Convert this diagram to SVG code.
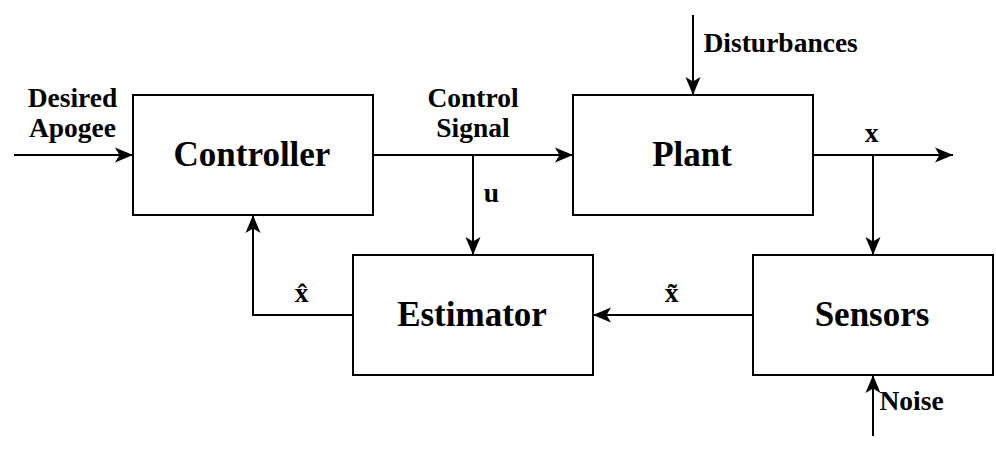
<svg xmlns="http://www.w3.org/2000/svg" width="996" height="456" viewBox="0 0 996 456">
<style>
.box{fill:#fff;stroke:#000;stroke-width:2}
.big{font-size:35px;text-anchor:middle}
.lbl{font-size:27.5px}
.c{text-anchor:middle}
.ln{fill:none;stroke:#000;stroke-width:2}
</style>
<defs>
<marker id="ah" markerUnits="userSpaceOnUse" markerWidth="20" markerHeight="20" viewBox="0 0 20 20" refX="18" refY="10" orient="auto">
<path d="M0,2.5 L18,10 L0,17.5 L4.5,10 Z" fill="#000"/>
</marker>
</defs>
<g id="connectors">
<path class="ln" d="M14,155 H133" marker-end="url(#ah)"/>
<path class="ln" d="M373,155 H573" marker-end="url(#ah)"/>
<path class="ln" d="M473,155 V255" marker-end="url(#ah)"/>
<path class="ln" d="M813,155 H953" marker-end="url(#ah)"/>
<path class="ln" d="M873,155 V255" marker-end="url(#ah)"/>
<path class="ln" d="M693,15 V95" marker-end="url(#ah)"/>
<path class="ln" d="M873,436 V375" marker-end="url(#ah)"/>
<path class="ln" d="M753,315 H593" marker-end="url(#ah)"/>
<path class="ln" d="M353,315 H253 V215" marker-end="url(#ah)"/>
<text class="lbl c" font-family="'Liberation Serif', serif" font-weight="bold" x="72.5" y="107">Desired</text>
<text class="lbl c" font-family="'Liberation Serif', serif" font-weight="bold" x="72.5" y="137">Apogee</text>
<text class="lbl c" font-family="'Liberation Serif', serif" font-weight="bold" x="473" y="107">Control</text>
<text class="lbl c" font-family="'Liberation Serif', serif" font-weight="bold" x="473" y="137">Signal</text>
<text class="lbl c" font-family="'Liberation Serif', serif" font-weight="bold" x="491.5" y="201.5">u</text>
<text class="lbl c" font-family="'Liberation Serif', serif" font-weight="bold" x="871.7" y="141.5">x</text>
<text class="lbl" font-family="'Liberation Serif', serif" font-weight="bold" x="703.5" y="52.3">Disturbances</text>
<text class="lbl" font-family="'Liberation Serif', serif" font-weight="bold" x="879.5" y="410">Noise</text>
<text class="lbl c" font-family="'Liberation Serif', serif" font-weight="bold" x="301.7" y="301.7">x̂</text>
<text class="lbl c" font-family="'Liberation Serif', serif" font-weight="bold" x="671.7" y="301.7">x̃</text>
</g>
<g id="controller"><rect class="box" x="133" y="95" width="240" height="120"/><text class="big" font-family="'Liberation Serif', serif" font-weight="bold" x="252" y="166">Controller</text></g>
<g id="plant"><rect class="box" x="573" y="95" width="240" height="120"/><text class="big" font-family="'Liberation Serif', serif" font-weight="bold" x="692" y="166">Plant</text></g>
<g id="estimator"><rect class="box" x="353" y="255" width="240" height="120"/><text class="big" font-family="'Liberation Serif', serif" font-weight="bold" x="472" y="326">Estimator</text></g>
<g id="sensors"><rect class="box" x="753" y="255" width="240" height="120"/><text class="big" font-family="'Liberation Serif', serif" font-weight="bold" x="872" y="326">Sensors</text></g>
</svg>
